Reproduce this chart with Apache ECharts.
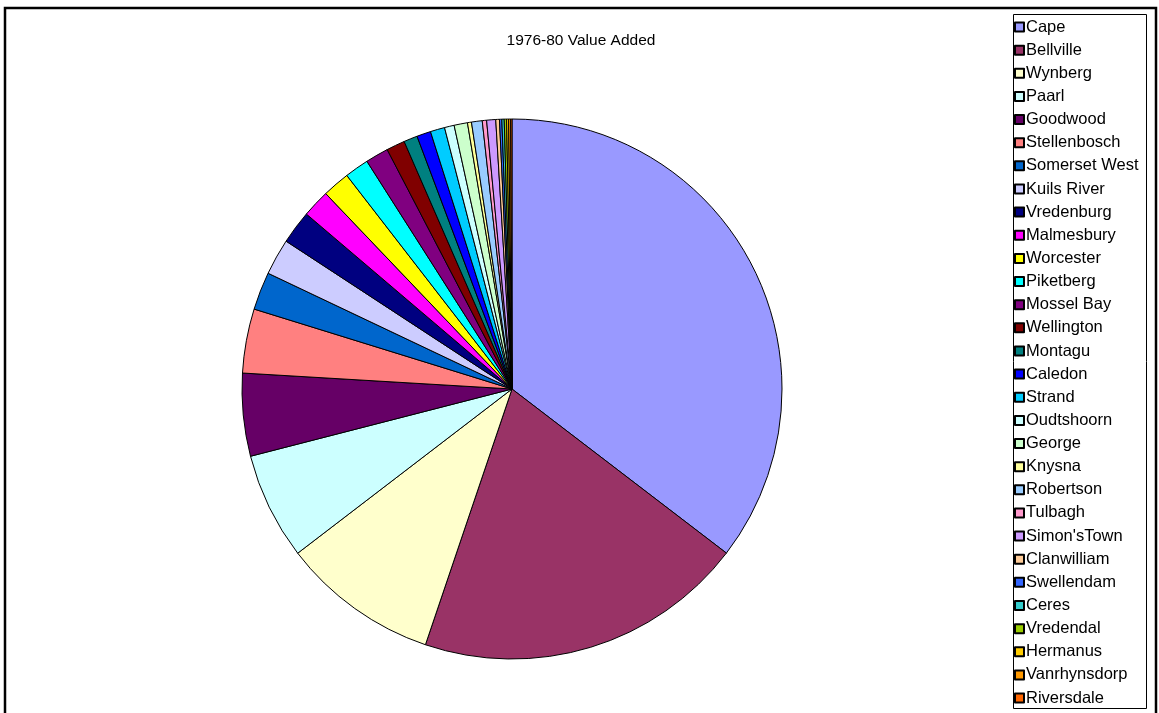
<!DOCTYPE html>
<html>
<head>
<meta charset="utf-8">
<script src="https://cdn.jsdelivr.net/npm/echarts@6/dist/echarts.min.js"></script>
<style>
  html, body { margin: 0; padding: 0; background: #fff; }
  #chart { width: 1159px; height: 713px; }
</style>
</head>
<body>
<div id="chart"></div>
<script>
// Magisterial districts, in drawing order (clockwise from 12 o'clock)
const districts = [
  'Cape', 'Bellville', 'Wynberg', 'Paarl', 'Goodwood', 'Stellenbosch',
  'Somerset West', 'Kuils River', 'Vredenburg', 'Malmesbury', 'Worcester',
  'Piketberg', 'Mossel Bay', 'Wellington', 'Montagu', 'Caledon', 'Strand',
  'Oudtshoorn', 'George', 'Knysna', 'Robertson', 'Tulbagh', "Simon'sTown",
  'Clanwilliam', 'Swellendam', 'Ceres', 'Vredendal', 'Hermanus',
  'Vanrhynsdorp', 'Riversdale'
];

// Share of value added, 1976-80 (%)
const valueAdded = [
  35.4, 19.8, 9.4, 6.4, 4.95, 3.84,
  2.27, 2.17, 2.0, 1.66, 1.64,
  1.45, 1.38, 1.11, 0.82, 0.84, 0.86,
  0.58, 0.8, 0.24, 0.64, 0.26, 0.54,
  0.22, 0.14, 0.14, 0.14, 0.12,
  0.12, 0.08
];

// Classic spreadsheet fill palette
const sliceColors = [
  '#9999FF', '#993366', '#FFFFCC', '#CCFFFF', '#660066', '#FF8080',
  '#0066CC', '#CCCCFF', '#000080', '#FF00FF', '#FFFF00',
  '#00FFFF', '#800080', '#800000', '#008080', '#0000FF', '#00CCFF',
  '#CCFFFF', '#CCFFCC', '#FFFF99', '#99CCFF', '#FF99CC', '#CC99FF',
  '#FFCC99', '#3366FF', '#33CCCC', '#99CC00', '#FFCC00',
  '#FF9900', '#FF6600'
];

const chartTitle = '1976-80 Value Added';

const FONT = '"Liberation Sans", Arial, sans-serif';

const chart = echarts.init(document.getElementById('chart'), null, { renderer: 'canvas' });

const pieData = districts.map((name, i) => ({
  name: name,
  value: valueAdded[i],
  itemStyle: { color: sliceColors[i] }
}));

chart.setOption({
  animation: false,
  backgroundColor: '#ffffff',
  textStyle: { fontFamily: FONT },
  legend: {
    orient: 'vertical',
    left: 1014,
    top: 18.5,
    padding: 0,
    icon: 'rect',
    itemWidth: 9,
    itemHeight: 9,
    itemGap: 6.14,
    selectedMode: false,
    data: districts,
    textStyle: { fontFamily: FONT, fontSize: 16.5, color: '#000', lineHeight: 17, padding: [0, 0, 0, -3] }
  },
  graphic: [
    // chart title
    {
      type: 'text', silent: true, z: 100,
      x: 581, y: 41,
      style: {
        text: chartTitle, fill: '#000',
        font: 'normal 15.5px ' + FONT,
        textAlign: 'center', textVerticalAlign: 'middle'
      }
    },
    // outer chart frame
    {
      type: 'rect', silent: true, z: 100,
      shape: { x: 5, y: 8, width: 1151, height: 720 },
      style: { fill: 'none', stroke: '#000', lineWidth: 2.5 }
    },
    // legend box
    {
      type: 'rect', silent: true, z: 100,
      shape: { x: 1013.5, y: 14.5, width: 133, height: 694 },
      style: { fill: 'none', stroke: '#000', lineWidth: 1 }
    }
  ],
  series: [{
    type: 'pie',
    center: [512, 389],
    radius: [0, 270],
    startAngle: 90,
    clockwise: true,
    avoidLabelOverlap: false,
    label: { show: false },
    labelLine: { show: false },
    emphasis: { disabled: true },
    itemStyle: { borderColor: '#000', borderWidth: 1 },
    data: pieData
  }]
});
</script>
</body>
</html>
